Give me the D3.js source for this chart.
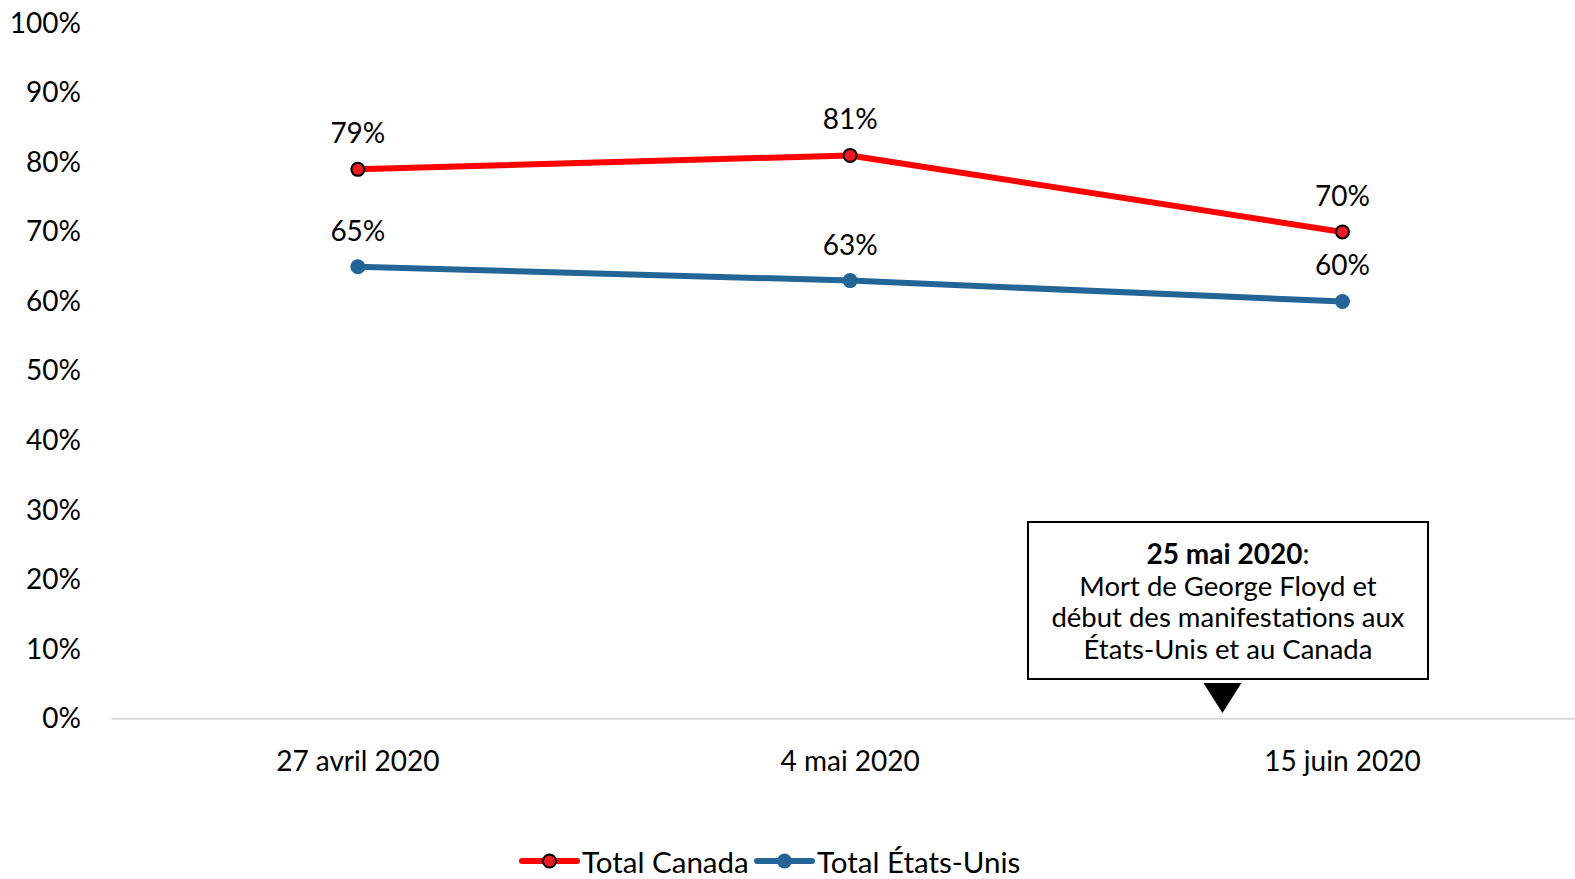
<!DOCTYPE html>
<html><head><meta charset="utf-8">
<script src="https://cdn.jsdelivr.net/npm/d3@7"></script>
<style>
html,body{margin:0;padding:0;background:#fff;}
svg{display:block;font-family:Lato,"Open Sans",sans-serif;}
</style></head>
<body><svg id="c" width="1575" height="879"></svg>
<script>
const categories = ["27 avril 2020", "4 mai 2020", "15 juin 2020"];
const canadaValues = [79, 81, 70];
const usValues = [65, 63, 60];
const seriesNames = ["Total Canada", "Total États-Unis"];
const yTicks = [0, 10, 20, 30, 40, 50, 60, 70, 80, 90, 100];
const noteTitle = "25 mai 2020";
const noteLines = ["Mort de George Floyd et", "début des manifestations aux", "États-Unis et au Canada"];

const svg = d3.select("#c");
const FS = 28;
const x = d3.scaleBand().domain(categories).range([111.7, 1588.6]);
const cx = d => x(d) + x.bandwidth() / 2;
const y = d3.scaleLinear().domain([0, 100]).range([718.7, 23.3]);

// y labels
const ya = svg.append("g").attr("transform", "translate(81,0)")
  .call(d3.axisLeft(y).tickValues(yTicks).tickSize(0).tickPadding(0).tickFormat(d => d + "%"));
ya.select(".domain").remove();
ya.selectAll("text").attr("font-size", FS).attr("font-family", "Lato").attr("fill", "#000");

// x axis line
svg.append("line").attr("x1", 111.7).attr("x2", 1575).attr("y1", y(0)).attr("y2", y(0))
  .attr("stroke", "#d9d9d9").attr("stroke-width", 2);
svg.selectAll(".xl").data(categories).join("text")
  .attr("x", d => cx(d)).attr("y", 760).attr("text-anchor", "middle")
  .attr("dominant-baseline", "central").attr("font-size", FS).text(d => d);

const series = [
  {name: seriesNames[0], values: canadaValues, line: "#ff0000", fill: "#ed1c24", stroke: "#000", r: 6.5},
  {name: seriesNames[1], values: usValues, line: "#236596", fill: "#236596", stroke: "none", r: 7.5}
];
const line = d3.line().x((v, i) => cx(categories[i])).y(v => y(v));
series.forEach(s => {
  svg.append("path").attr("d", line(s.values)).attr("fill", "none")
    .attr("stroke", s.line).attr("stroke-width", 6).attr("stroke-linejoin", "round");
});
series.forEach(s => {
  svg.selectAll(null).data(s.values).join("circle")
    .attr("cx", (v, i) => cx(categories[i])).attr("cy", v => y(v)).attr("r", s.r)
    .attr("fill", s.fill).attr("stroke", s.stroke).attr("stroke-width", 2);
  svg.selectAll(null).data(s.values).join("text")
    .attr("x", (v, i) => cx(categories[i])).attr("y", v => y(v) - 37)
    .attr("text-anchor", "middle").attr("dominant-baseline", "central")
    .attr("font-size", FS).text(v => v + "%");
});

// annotation
const bx0 = 1028, bx1 = 1428, by0 = 522, by1 = 679;
svg.append("rect").attr("x", bx0).attr("y", by0).attr("width", bx1 - bx0).attr("height", by1 - by0)
  .attr("fill", "#fff").attr("stroke", "#000").attr("stroke-width", 2);
const tcx = (bx0 + bx1) / 2;
const t0 = svg.append("text").attr("x", tcx).attr("y", 553).attr("text-anchor", "middle")
  .attr("dominant-baseline", "central").attr("font-size", FS);
t0.append("tspan").attr("font-weight", "bold").text(noteTitle);
t0.append("tspan").text(":");
noteLines.forEach((l, i) => {
  svg.append("text").attr("x", tcx).attr("y", 585 + i * 31.5).attr("text-anchor", "middle")
    .attr("dominant-baseline", "central").attr("font-size", 27.5).text(l);
});
const ax = cx(categories[2]) - 120;
svg.append("path").attr("d", `M${ax - 19},683 L${ax + 19},683 L${ax},713 Z`).attr("fill", "#000");

// legend
const ly = 861;
const leg = [{s: series[0], x0: 522, tx: 582}, {s: series[1], x0: 757, tx: 817}];
leg.forEach(o => {
  svg.append("line").attr("x1", o.x0).attr("x2", o.x0 + 55).attr("y1", ly).attr("y2", ly)
    .attr("stroke", o.s.line).attr("stroke-width", 6).attr("stroke-linecap", "round");
  svg.append("circle").attr("cx", o.x0 + 27.5).attr("cy", ly).attr("r", o.s.r)
    .attr("fill", o.s.fill).attr("stroke", o.s.stroke).attr("stroke-width", 2);
  svg.append("text").attr("x", o.tx).attr("y", ly).attr("dominant-baseline", "central")
    .attr("font-size", 29.5).text(o.s.name);
});
</script></body></html>
